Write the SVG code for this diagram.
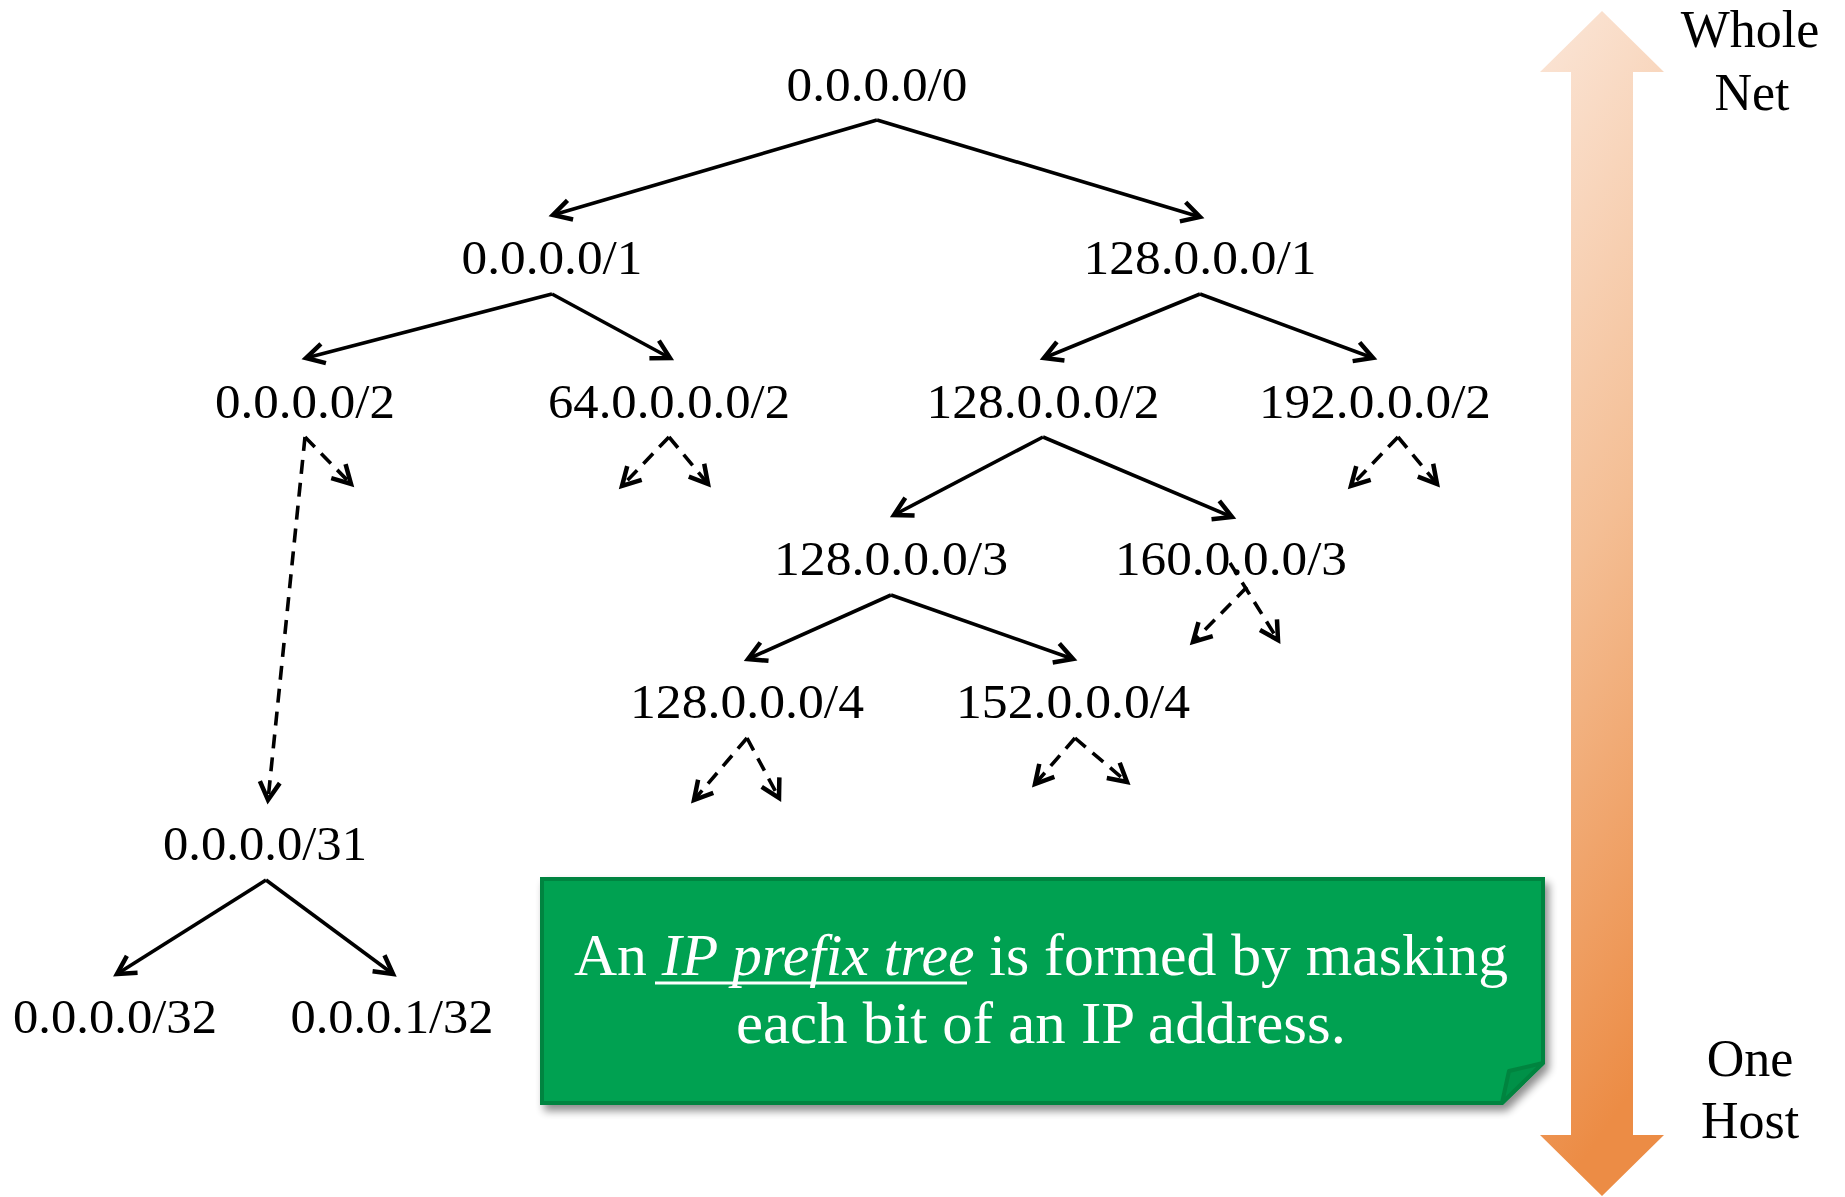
<svg xmlns="http://www.w3.org/2000/svg" width="1845" height="1197" viewBox="0 0 1845 1197">
<style>
  .lbl { font-family: "Liberation Serif", "DejaVu Serif", serif; font-size: 49px; fill: #000; text-anchor: middle; }
  .side { font-family: "Liberation Serif", "DejaVu Serif", serif; font-size: 52px; fill: #000; text-anchor: middle; }
  .box { font-family: "Liberation Serif", "DejaVu Serif", serif; font-size: 59px; fill: #fff; text-anchor: middle; }
  .solid { stroke: #000; stroke-width: 3.6; fill: none; marker-end: url(#ah); }
  .dash { stroke: #000; stroke-width: 3.6; fill: none; stroke-dasharray: 14 9; marker-end: url(#ah); }
</style>
<defs>
  <marker id="ah" markerUnits="userSpaceOnUse" viewBox="-22 -14 26 28" refX="0" refY="0" markerWidth="26" markerHeight="28" orient="auto" overflow="visible">
    <path d="M-18,-10 L0,0 L-18,10" fill="none" stroke="#000" stroke-width="4.5" stroke-dasharray="none" stroke-linejoin="miter"/>
  </marker>
  <linearGradient id="og" x1="0" y1="0" x2="0.15" y2="1">
    <stop offset="0" stop-color="#FBE6D8"/>
    <stop offset="0.5" stop-color="#F4BE94"/>
    <stop offset="1" stop-color="#EC8C45"/>
  </linearGradient>
  <filter id="sh" x="-5%" y="-10%" width="115%" height="130%">
    <feGaussianBlur in="SourceAlpha" stdDeviation="4"/>
    <feOffset dx="4" dy="6" result="b"/>
    <feComponentTransfer><feFuncA type="linear" slope="0.45"/></feComponentTransfer>
    <feMerge><feMergeNode/><feMergeNode in="SourceGraphic"/></feMerge>
  </filter>
</defs>

<g id="scale-arrow">
  <polygon points="1602,11 1664,72 1633,72 1633,1135 1664,1135 1602,1196 1540,1135 1571,1135 1571,72 1540,72" fill="url(#og)"/>
  <text class="side" x="1750" y="47">Whole</text>
  <text class="side" x="1752" y="110">Net</text>
  <text class="side" x="1750" y="1076">One</text>
  <text class="side" x="1750" y="1138">Host</text>
</g>

<g id="connectors">
  <line class="solid" x1="877" y1="120" x2="553" y2="215"/>
  <line class="solid" x1="877" y1="120" x2="1200" y2="217"/>
  <line class="solid" x1="552" y1="294" x2="306" y2="358"/>
  <line class="solid" x1="552" y1="294" x2="670" y2="358"/>
  <line class="solid" x1="1200" y1="294" x2="1044" y2="358"/>
  <line class="solid" x1="1200" y1="294" x2="1373" y2="358"/>
  <line class="solid" x1="1043" y1="437" x2="894" y2="515"/>
  <line class="solid" x1="1043" y1="437" x2="1232" y2="517"/>
  <line class="solid" x1="891" y1="595" x2="748" y2="659"/>
  <line class="solid" x1="891" y1="595" x2="1073" y2="659"/>
  <line class="solid" x1="266" y1="880" x2="117" y2="974"/>
  <line class="solid" x1="266" y1="880" x2="393" y2="974"/>

  <line class="dash" x1="305" y1="437" x2="268" y2="800"/>
  <line class="dash" x1="305" y1="437" x2="351" y2="484"/>
  <line class="dash" x1="669" y1="437" x2="622" y2="486"/>
  <line class="dash" x1="669" y1="437" x2="708" y2="484"/>
  <line class="dash" x1="1398" y1="437" x2="1351" y2="486"/>
  <line class="dash" x1="1398" y1="437" x2="1437" y2="484"/>
  <line class="dash" x1="1247" y1="587" x2="1193" y2="642"/>
  <line class="dash" x1="1230" y1="563" x2="1278" y2="640"/>
  <line class="dash" x1="747" y1="738" x2="694" y2="800"/>
  <line class="dash" x1="747" y1="738" x2="779" y2="798"/>
  <line class="dash" x1="1075" y1="738" x2="1035" y2="784"/>
  <line class="dash" x1="1075" y1="738" x2="1127" y2="782"/>
</g>

<g id="n-0-0"><text class="lbl" x="877" y="101" textLength="181" lengthAdjust="spacingAndGlyphs">0.0.0.0/0</text></g>
<g id="n-0-1"><text class="lbl" x="552" y="274" textLength="181" lengthAdjust="spacingAndGlyphs">0.0.0.0/1</text></g>
<g id="n-128-1"><text class="lbl" x="1200" y="274" textLength="233" lengthAdjust="spacingAndGlyphs">128.0.0.0/1</text></g>
<g id="n-0-2"><text class="lbl" x="305" y="418" textLength="180" lengthAdjust="spacingAndGlyphs">0.0.0.0/2</text></g>
<g id="n-64-2"><text class="lbl" x="669" y="418" textLength="242" lengthAdjust="spacingAndGlyphs">64.0.0.0.0/2</text></g>
<g id="n-128-2"><text class="lbl" x="1043" y="418" textLength="233" lengthAdjust="spacingAndGlyphs">128.0.0.0/2</text></g>
<g id="n-192-2"><text class="lbl" x="1375" y="418" textLength="232" lengthAdjust="spacingAndGlyphs">192.0.0.0/2</text></g>
<g id="n-128-3"><text class="lbl" x="891" y="575" textLength="234" lengthAdjust="spacingAndGlyphs">128.0.0.0/3</text></g>
<g id="n-160-3"><text class="lbl" x="1231" y="575" textLength="232" lengthAdjust="spacingAndGlyphs">160.0.0.0/3</text></g>
<g id="n-128-4"><text class="lbl" x="747" y="718" textLength="234" lengthAdjust="spacingAndGlyphs">128.0.0.0/4</text></g>
<g id="n-152-4"><text class="lbl" x="1073" y="718" textLength="234" lengthAdjust="spacingAndGlyphs">152.0.0.0/4</text></g>
<g id="n-0-31"><text class="lbl" x="265" y="860" textLength="204" lengthAdjust="spacingAndGlyphs">0.0.0.0/31</text></g>
<g id="n-0-32"><text class="lbl" x="115" y="1033" textLength="204" lengthAdjust="spacingAndGlyphs">0.0.0.0/32</text></g>
<g id="n-1-32"><text class="lbl" x="392" y="1033" textLength="203" lengthAdjust="spacingAndGlyphs">0.0.0.1/32</text></g>

<g id="note">
  <path d="M542,879 H1543 V1063 L1502,1103 H542 Z" fill="#00A151" stroke="#00843F" stroke-width="4" filter="url(#sh)"/>
  <polygon points="1543,1063 1509,1071 1502,1103" fill="#009148" stroke="#00843F" stroke-width="4" stroke-linejoin="round"/>
  <text class="box" x="1041" y="975" textLength="934" lengthAdjust="spacingAndGlyphs">An <tspan font-style="italic">IP prefix tree</tspan> is formed by masking</text>
  <line x1="655" y1="983" x2="967" y2="983" stroke="#fff" stroke-width="3"/>
  <text class="box" x="1041" y="1043" textLength="610" lengthAdjust="spacingAndGlyphs">each bit of an IP address.</text>
</g>
</svg>
